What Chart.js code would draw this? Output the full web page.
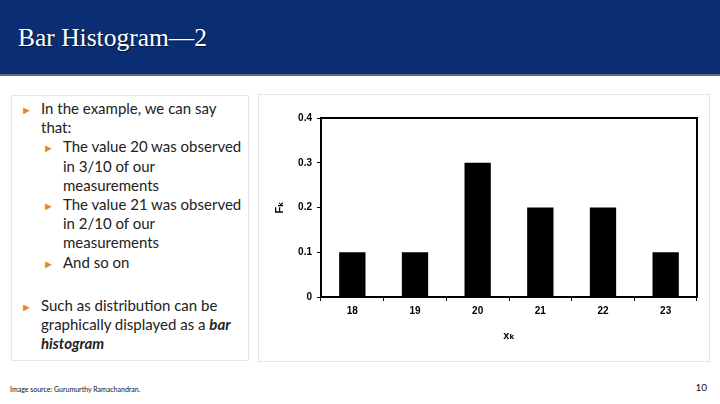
<!DOCTYPE html>
<html>
<head>
<meta charset="utf-8">
<script src="https://cdn.jsdelivr.net/npm/chart.js@4.4.1/dist/chart.umd.min.js"></script>
<style>
  html, body { margin: 0; padding: 0; }
  body { width: 720px; height: 404px; position: relative; overflow: hidden; background: #ffffff; font-family: Lato, "Open Sans", sans-serif; }
  #header { position: absolute; left: 0; top: 0; width: 720px; height: 74px; background: #0b2d73; border-bottom: 2px solid #5d6b82; }
  #header h1 { position: absolute; left: 18px; top: 23px; margin: 0; font-family: "Liberation Serif", serif; font-weight: normal; font-size: 25.5px; color: #ffffff; text-shadow: 1px 1px 1px rgba(0,0,0,0.5); white-space: nowrap; }
  .box { position: absolute; border: 1px solid #e3e7ec; box-sizing: border-box; }
  #textbox { left: 11px; top: 95px; width: 238px; height: 266px; }
  #chartbox { left: 258px; top: 94px; width: 452px; height: 268px; }
  ul { list-style: none; margin: 0; padding: 0; }
  li { position: relative; font-size: 15px; line-height: 19.2px; color: #222222; white-space: nowrap; }
  li::before { content: "\25BA"; position: absolute; top: 1px; color: #e8861f; font-size: 11px; }
  #textbox > ul { position: absolute; left: 29px; top: 3px; width: 200px; }
  #textbox > ul > li::before { left: -20px; }
  #textbox ul ul { margin-left: 22px; }
  #textbox ul ul li::before { left: -20px; }
  .gap { margin-top: 24px; }
  #footer { position: absolute; left: 10px; top: 385px; font-size: 7px; color: #111111; }
  #pagenum { position: absolute; right: 13px; top: 381px; font-size: 10px; color: #111111; }
</style>
</head>
<body>
<div id="header"><h1>Bar Histogram—2</h1></div>

<div class="box" id="textbox">
  <ul>
    <li>In the example, we can say<br>that:
      <ul>
        <li>The value 20 was observed<br>in 3/10 of our<br>measurements</li>
        <li>The value 21 was observed<br>in 2/10 of our<br>measurements</li>
        <li>And so on</li>
      </ul>
    </li>
    <li class="gap">Such as distribution can be<br>graphically displayed as a <b><i>bar</i></b><br><b><i>histogram</i></b></li>
  </ul>
</div>

<div class="box" id="chartbox">
  <canvas id="chart" width="450" height="266"></canvas>
</div>

<div id="footer">Image source: Gurumurthy Ramachandran.</div>
<div id="pagenum">10</div>

<script>
// ==========================
// DATA
// ==========================

const xValues = ["18", "19", "20", "21", "22", "23"];
const frequencies = [0.1, 0.1, 0.3, 0.2, 0.2, 0.1];
const yTicks = [0, 0.1, 0.2, 0.3, 0.4];

// ==========================
// PLOT FRAME
// ==========================

const frameBox = {
  id: "frameBox",
  afterDraw(chart) {
    const a = chart.chartArea;
    const c = chart.ctx;
    c.save();
    c.strokeStyle = "#000000";
    c.lineWidth = 2;
    c.strokeRect(a.left, a.top, a.right - a.left, a.bottom - a.top);
    c.restore();
  }
};

// ==========================
// CHART
// ==========================

const labelFont = { family: "'Liberation Sans', Arial, sans-serif", size: 10, weight: "bold" };

new Chart(document.getElementById("chart"), {
  type: "bar",
  data: {
    labels: xValues,
    datasets: [{
      data: frequencies,
      backgroundColor: "#000000",
      borderWidth: 0,
      barPercentage: 0.42,
      categoryPercentage: 1.0
    }]
  },
  options: {
    responsive: false,
    animation: false,
    layout: { padding: { left: 0, top: 23, right: 12, bottom: 0 } },
    plugins: { legend: { display: false }, tooltip: { enabled: false } },
    scales: {
      x: {
        grid: { drawOnChartArea: false, drawTicks: true, tickLength: 4, color: "#000000" },
        border: { display: true, color: "#000000", width: 2 },
        ticks: { color: "#000000", font: labelFont, padding: 4 },
        title: {
          display: true,
          text: "xₖ",
          color: "#000000",
          font: { family: "'Liberation Sans', 'DejaVu Sans', sans-serif", size: 11, weight: "bold" },
          padding: { top: 8, bottom: 18 }
        },
        afterFit(scale) { scale.height = 64; }
      },
      y: {
        min: 0,
        max: 0.4,
        afterBuildTicks(scale) { scale.ticks = yTicks.map(v => ({ value: v })); },
        grid: { drawOnChartArea: false, drawTicks: true, tickLength: 4, color: "#000000" },
        border: { display: true, color: "#000000", width: 2 },
        ticks: { color: "#000000", font: labelFont, padding: 5 },
        title: {
          display: true,
          text: "Fₖ",
          color: "#000000",
          font: { family: "'Liberation Sans', 'DejaVu Sans', sans-serif", size: 11, weight: "bold" },
          padding: { top: 14, bottom: 0 }
        },
        afterFit(scale) { scale.width = 62; }
      }
    }
  },
  plugins: [frameBox]
});
</script>
</body>
</html>
